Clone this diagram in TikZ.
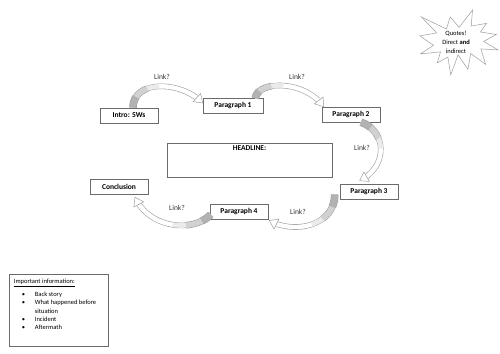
\documentclass[tikz,border=0pt]{standalone}
\usepackage{fontspec}
\setmainfont{Carlito}
\usetikzlibrary{calc}
\definecolor{bandline}{gray}{0.62}
\definecolor{boxline}{gray}{0.42}
\tikzset{
  parabox/.style={draw=boxline, line width=0.6pt, fill=white,
    font=\fontsize{7.5}{9}\selectfont\bfseries, minimum height=15pt, inner sep=1pt},
  linktext/.style={font=\fontsize{7.5}{9}\selectfont, text=black!80},
  bandout/.style={line width=#1, draw=bandline, line join=round},
  bandin/.style={line width=#1, draw=white, line join=round},
  bandshade/.style 2 args={line width=#2, draw=#1, line join=round}
}
\newcommand\linkarrow[1]{%
  \path #1
    coordinate[pos=0] (a0) coordinate[pos=0.05] (a1) coordinate[pos=0.1] (a2)
    coordinate[pos=0.15] (a3) coordinate[pos=0.2] (a4) coordinate[pos=0.25] (a5)
    coordinate[pos=0.3] (a6) coordinate[pos=0.35] (a7) coordinate[pos=0.4] (a8)
    coordinate[pos=0.45] (a9) coordinate[pos=0.5] (a10) coordinate[pos=0.55] (a11)
    coordinate[pos=0.6] (a12) coordinate[pos=0.65] (a13) coordinate[pos=0.7] (a14)
    coordinate[pos=0.75] (a15) coordinate[pos=0.8] (a16) coordinate[pos=0.85] (a17)
    coordinate[pos=0.95] (a19) coordinate[pos=1] (a20);
  \coordinate (hb) at ($(a20)!8pt!(a19)$);
  \draw[bandout=7.6pt] (a0) -- (a1) -- (a2) -- (a3);
  \draw[bandout=6.7pt] (a0) -- (a1) -- (a2) -- (a3) -- (a4) -- (a5) -- (a6) -- (a7);
  \draw[bandout=5.6pt] (a0) -- (a1) -- (a2) -- (a3) -- (a4) -- (a5) -- (a6) -- (a7) -- (a8)
    -- (a9) -- (a10) -- (a11) -- (a12) -- (a13) -- (a14) -- (a15) -- (a16) -- (a17) -- (hb);
  \draw[bandin=4.4pt] (a0) -- (a1) -- (a2) -- (a3) -- (a4) -- (a5) -- (a6) -- (a7) -- (a8)
    -- (a9) -- (a10) -- (a11) -- (a12) -- (a13) -- (a14) -- (a15) -- (a16) -- (a17) -- (hb);
  \draw[bandshade={black!8}{4.4pt}] (a0) -- (a1) -- (a2) -- (a3) -- (a4) -- (a5) -- (a6) -- (a7) -- (a8) -- (a9) -- (a10);
  \draw[bandshade={black!18}{5.5pt}] (a0) -- (a1) -- (a2) -- (a3) -- (a4) -- (a5) -- (a6) -- (a7);
  \draw[bandshade={black!30}{6.4pt}] (a0) -- (a1) -- (a2) -- (a3);
  \draw[bandline, fill=white, line width=0.5pt, line join=miter]
    ($(hb)!5.5pt!90:(a20)$) -- (a20) -- ($(hb)!5.5pt!-90:(a20)$) -- cycle;
}
\begin{document}
\begin{tikzpicture}[x=1pt, y=-1pt]
\useasboundingbox (0,0) rectangle (500,353);

% nodes
\node[parabox, minimum width=58pt] (intro) at (129,115.5) {Intro: 5Ws};
\node[parabox, minimum width=60pt] (p1) at (233,106) {Paragraph 1};
\node[parabox, minimum width=58pt] (p2) at (351,114.5) {Paragraph 2};
\node[parabox, minimum width=58pt] (p3) at (369,191.5) {Paragraph 3};
\node[parabox, minimum width=58pt] (p4) at (239,211.5) {Paragraph 4};
\node[parabox, minimum width=58pt] (concl) at (119,186.5) {Conclusion};

\node[draw=boxline, line width=0.6pt, minimum width=165pt, minimum height=34pt, inner sep=0pt] (hl) at (249.5,160) {};
\node[anchor=north, font=\fontsize{7.5}{9}\selectfont\bfseries, inner sep=1pt] (hltext) at ([yshift=-2pt]hl.north) {HEADLINE:};

% link labels
\node[linktext] (l1) at (162,77) {Link?};
\node[linktext] (l2) at (297,77) {Link?};
\node[linktext] (l3) at (362,148) {Link?};
\node[linktext] (l4) at (298,212) {Link?};
\node[linktext] (l5) at (177,208) {Link?};

% curved arrows
\linkarrow{([xshift=4pt]intro.north) .. controls (133,80) and (180,80) .. ([yshift=3pt]p1.west)}
\linkarrow{([xshift=-8pt]p1.north east) .. controls (258,80) and (305,80) .. ([xshift=2pt]p2.north west)}
\linkarrow{([xshift=10pt]p2.south) .. controls (385,130) and (390,165) .. ([xshift=20pt,yshift=3pt]p3.north west)}
\linkarrow{([xshift=-5pt,yshift=-3pt]p3.west) .. controls (335,225) and (295,235) .. ([xshift=1pt,yshift=-9pt]p4.east)}
\linkarrow{([xshift=1pt,yshift=-3pt]p4.west) .. controls (195,232) and (150,230) .. ([xshift=16pt,yshift=-3pt]concl.south)}

% starburst
\begin{scope}[shift={(420,10)}, x=0.003611pt, y=-0.003009pt]
\draw[bandline, line width=0.5pt, fill=white]
 (10800,5800) -- (14522,0) -- (14155,5325) -- (18380,4457) -- (16702,7315)
 -- (21097,8137) -- (17607,10475) -- (21600,13290) -- (16837,12942)
 -- (18145,18095) -- (14020,14457) -- (13247,19737) -- (10532,14935)
 -- (8485,21600) -- (7715,15627) -- (4762,17617) -- (5667,13937)
 -- (135,14587) -- (3722,11775) -- (0,8615) -- (4627,7617) -- (370,2295)
 -- (7312,6320) -- (8352,2295) -- cycle;
\end{scope}
\node[font=\fontsize{6.5}{9}\selectfont, align=center, inner sep=0pt] (quotes) at (456,42) {Quotes!\\Direct \textbf{and}\\indirect};

% information box
\node[draw=boxline, line width=0.6pt, minimum width=99pt, minimum height=72pt, inner sep=0pt] (info) at (58.5,310) {};
\node[anchor=north west, align=left, inner sep=0pt, font=\fontsize{6.5}{8.3}\selectfont] (infotext) at ([xshift=5pt,yshift=-5pt]info.north west)
{\underline{Important information:}\\[5pt]
\hspace*{8pt}\makebox[13pt][l]{\textbullet}Back story\\
\hspace*{8pt}\makebox[13pt][l]{\textbullet}What happened before\\
\hspace*{21pt}situation\\
\hspace*{8pt}\makebox[13pt][l]{\textbullet}Incident\\
\hspace*{8pt}\makebox[13pt][l]{\textbullet}Aftermath};
\end{tikzpicture}
\end{document}
